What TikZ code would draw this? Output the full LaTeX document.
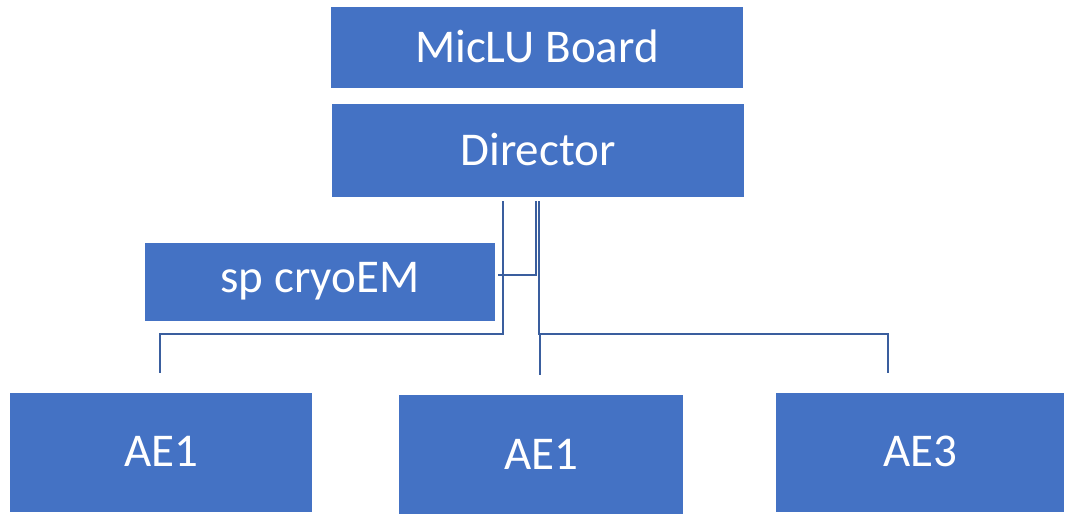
\documentclass[tikz,border=0pt]{standalone}
\usepackage{fontspec}
\setmainfont{Carlito}
\definecolor{boxfill}{HTML}{4472C4}
\definecolor{linec}{HTML}{3A5E9E}
\begin{document}
\begin{tikzpicture}[x=1pt,y=-1pt,
  box/.style={fill=boxfill,draw=none,text=white,font=\fontsize{47}{50}\selectfont,inner sep=0pt},
  conn/.style={draw=linec,line width=2.8pt}]
\useasboundingbox (0,0) rectangle (1065,515);
\fill[boxfill] (331,7) rectangle (743,88);
\node[box] (board) at (537,46) {MicLU Board};
\fill[boxfill] (332,104) rectangle (744,197);
\node[box] (dir) at (538,149) {Director};
\fill[boxfill] (145,243) rectangle (495,321);
\node[box] (sp) at (320,281) {sp cryoEM};
\fill[boxfill] (10,393) rectangle (312,512);
\node[box] (ae1) at (161,451) {AE1};
\fill[boxfill] (399,395) rectangle (683,514);
\node[box] (ae2) at (541,454) {AE1};
\fill[boxfill] (776,393) rectangle (1064,512);
\node[box] (ae3) at (920,451) {AE3};
\coordinate (d1) at (503,201);
\coordinate (d2) at (536,201);
\coordinate (d3) at (539,201);
\coordinate (s1) at (498,275);
\coordinate (a1) at (160,373);
\coordinate (a2) at (540,375);
\coordinate (a3) at (888,373);
\draw[conn] (d1) -- (503,334) -- (160,334) -- (a1);
\draw[conn] (d2) -- (536,275) -- (s1);
\draw[conn] (d3) -- (539,334) -- (888,334) -- (a3);
\draw[conn] (540,334) -- (a2);
\end{tikzpicture}
\end{document}
